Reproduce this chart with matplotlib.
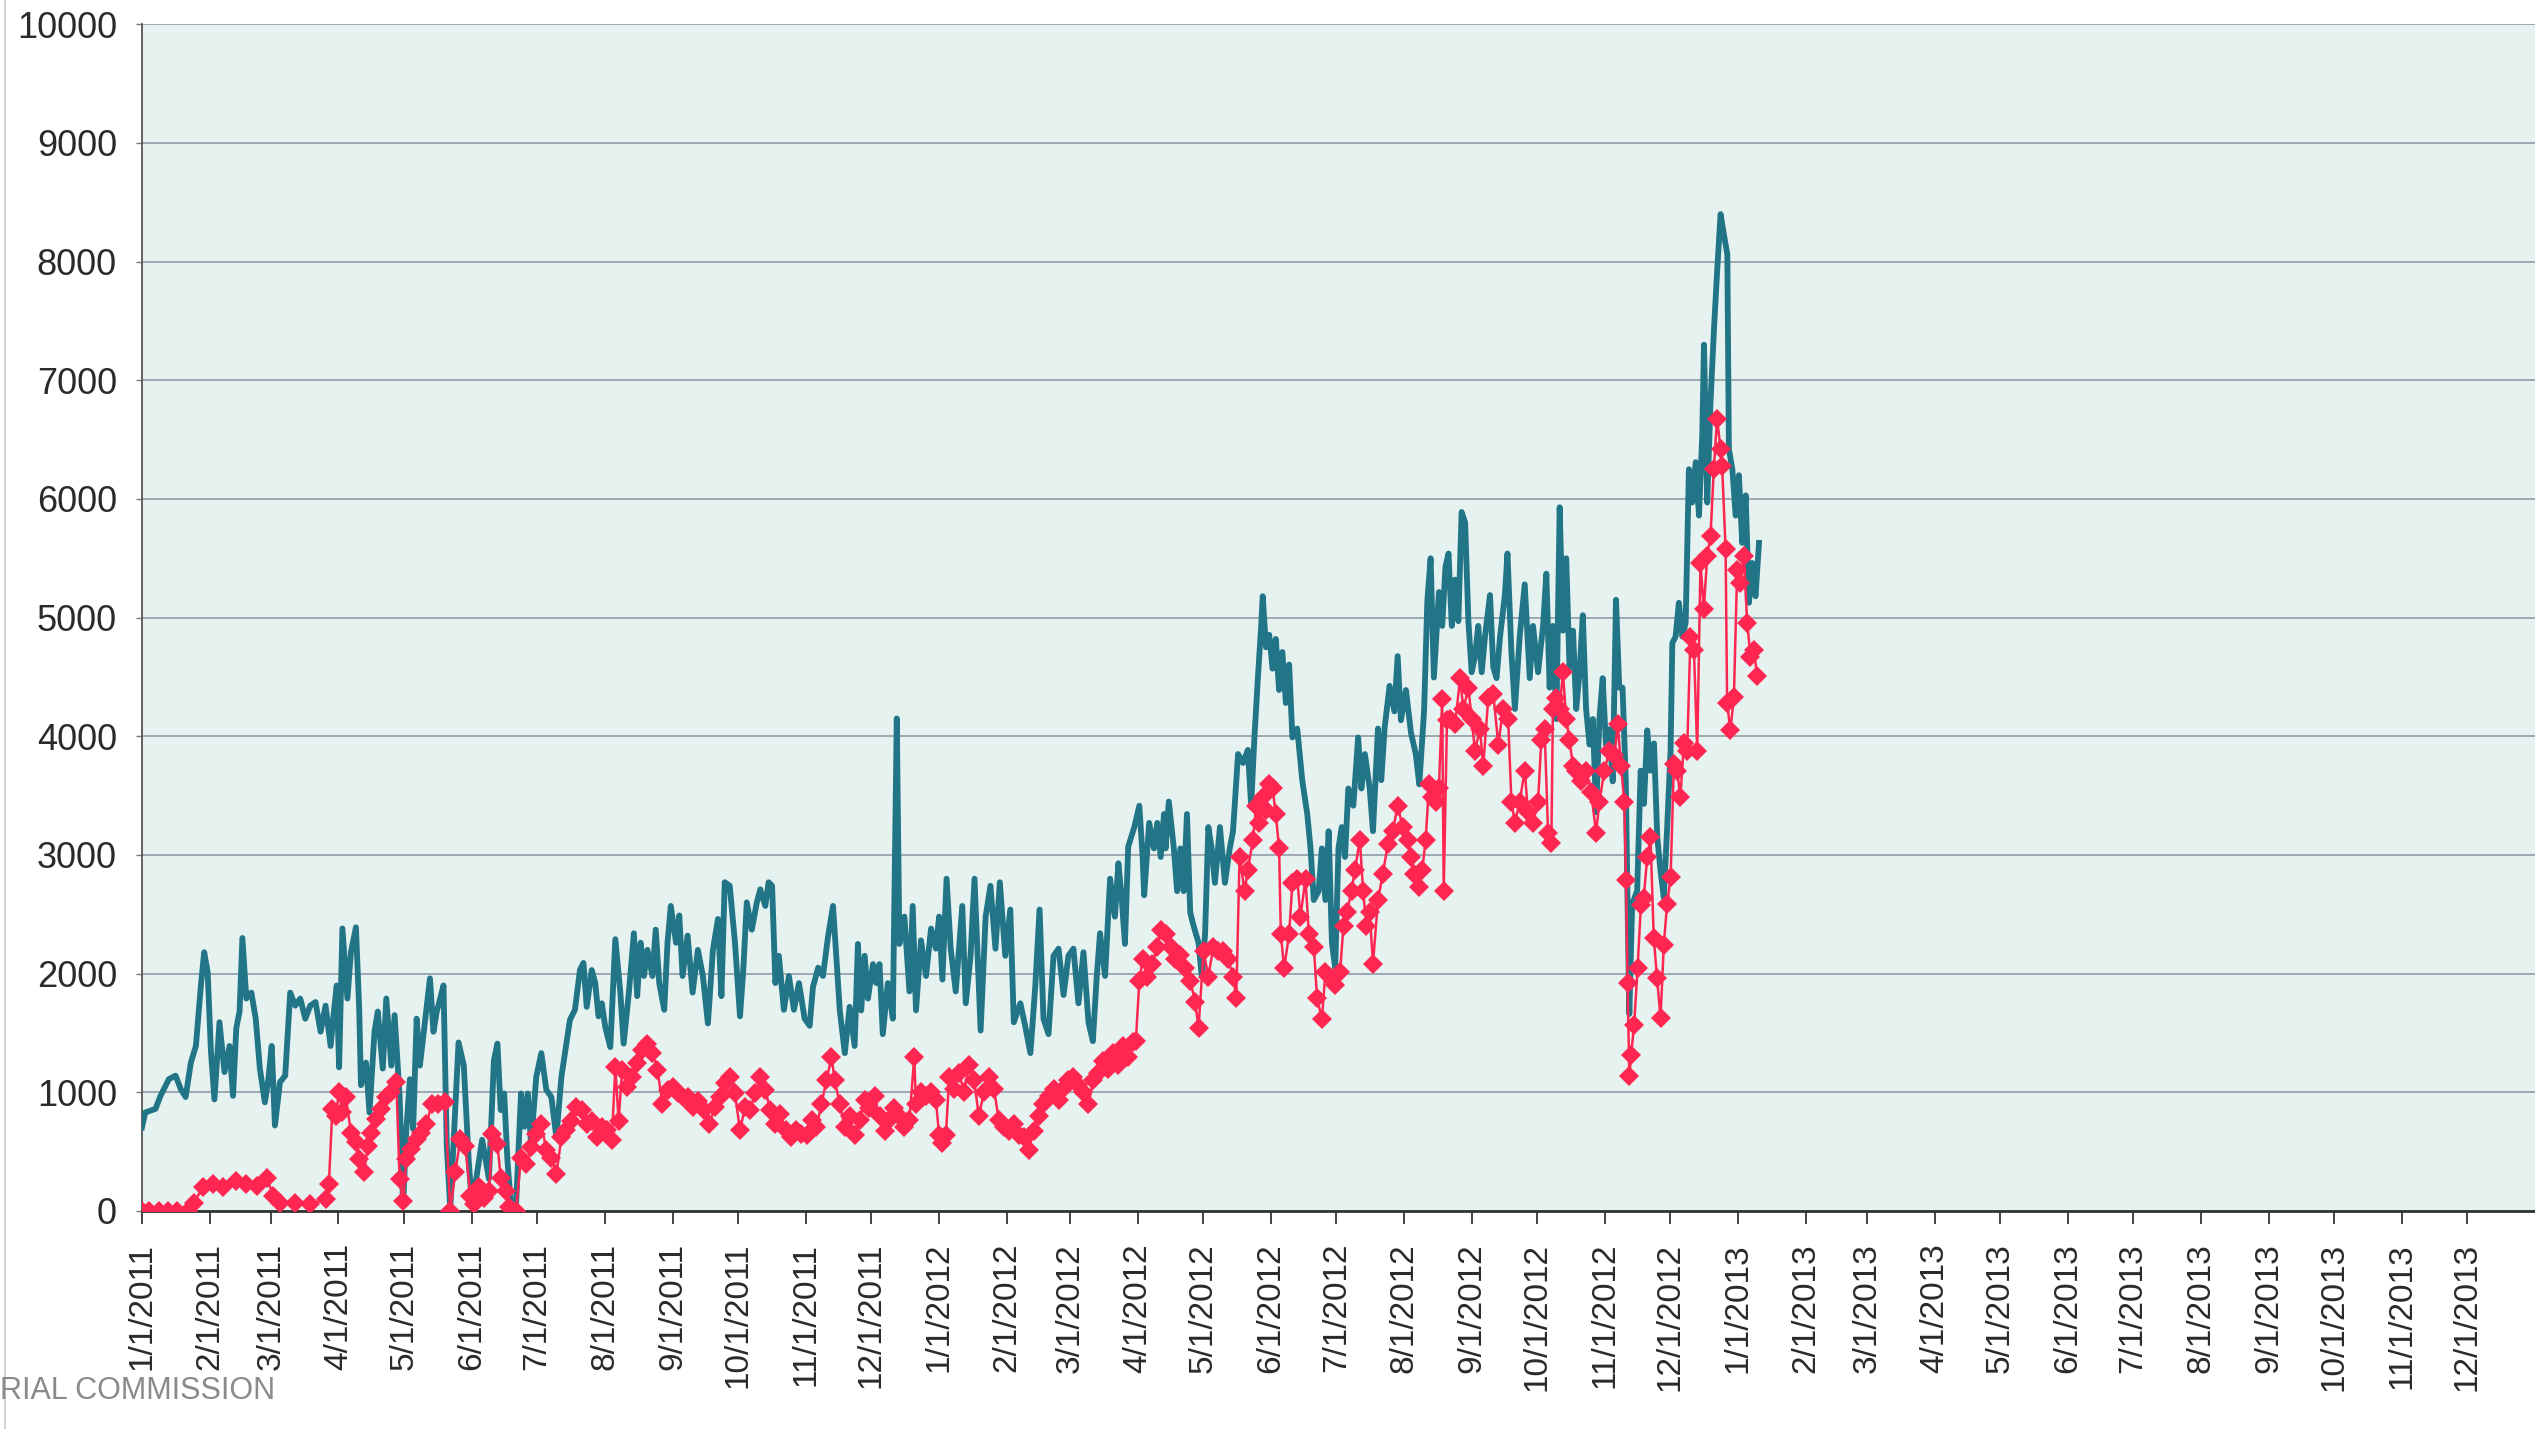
import pandas as pd
import numpy as np
import matplotlib
matplotlib.use('Agg')
import matplotlib.pyplot as plt

plt.rcParams['font.family'] = ['Liberation Sans', 'DejaVu Sans']

# %% Data: (days since 1/1/2011, value)
start = pd.Timestamp('2011-01-01')

teal_2011 = [
    (0, 704), (1.5, 830), (6.2, 860), (8.5, 970), (12.3, 1110), (15.4, 1140), (17.7, 1030), (20, 960),
    (22.4, 1250), (24.7, 1390), (27, 1900), (28.5, 2180), (30.1, 2010), (31.6, 1340), (33.2, 940),
    (35.5, 1590), (37.8, 1170), (40.1, 1390), (41.7, 970), (43.2, 1540), (44.7, 1680), (46, 2300),
    (47.8, 1790), (50.1, 1840), (52.1, 1620), (54, 1200), (56.3, 915), (57.9, 1110), (59.4, 1390),
    (60.9, 720), (63.2, 1085), (65.6, 1140), (67.9, 1840), (70.2, 1730), (72.5, 1790), (74.8, 1620),
    (77.1, 1730), (79.5, 1760), (81.8, 1510), (84.1, 1730), (86.4, 1390), (87.9, 1680), (89.2, 1900),
    (90.3, 1210), (91.8, 2380), (94.1, 1790), (95.7, 2180), (98, 2390), (99.5, 1700), (100.3, 1060),
    (102.6, 1250), (104.2, 830), (106.5, 1510), (108, 1680), (110.3, 1200), (111.9, 1790), (114.2, 1225),
    (115.7, 1650), (118, 970), (119.6, 40), (121.1, 690), (122.7, 1110), (124.2, 690), (125.8, 1620),
    (127.3, 1225), (129.6, 1590), (131.9, 1960), (133.5, 1510), (135, 1680), (136.6, 1790), (138.1, 1900),
    (139.6, 550), (141.2, 15), (145, 1420), (147.4, 1225), (149.7, 410), (151.2, 40), (155.8, 600),
    (158.9, 270), (161.2, 1270), (162.8, 1410), (164.3, 850), (165.9, 990), (167.4, 420), (169, 55),
    (171.3, 30), (173.6, 990), (175.2, 710), (176.7, 990), (178.2, 565), (180.6, 1130), (182.9, 1330),
    (185.2, 1020), (187.5, 960), (189.8, 620), (192.1, 1130), (194.4, 1410), (196, 1610), (198.3, 1695),
    (200.6, 2030), (202.2, 2090), (203.7, 1720), (206, 2030), (207.6, 1920), (209.1, 1640), (210.6, 1750),
    (212.2, 1550), (214.5, 1380), (216.8, 2290), (219.1, 1840), (220.6, 1410), (223, 1840), (225.3, 2340),
    (226.8, 1810), (228.4, 2260), (229.9, 1980), (231.5, 2200), (233.8, 1980), (235.3, 2370), (236.9, 1920),
    (239.2, 1695), (240.7, 2260), (242.2, 2570), (244.6, 2260), (246.1, 2490), (247.6, 1980), (249.9, 2320),
    (252.2, 1840), (254.6, 2200), (256.9, 1980), (259.2, 1580), (261.5, 2200), (263.8, 2460), (265.4, 1810),
    (266.9, 2770), (269.2, 2740), (271.6, 2260), (273.9, 1640), (275.4, 2030), (277, 2600), (279.3, 2370),
    (281.6, 2600), (283.2, 2710), (285.5, 2570), (287, 2770), (288.6, 2740), (290.1, 1920), (291.7, 2150),
    (294, 1695), (296.3, 1980), (298.6, 1695), (300.9, 1920), (303.5, 1620), (305.8, 1560), (307.3, 1885),
    (309.7, 2050), (311.9, 1980), (314.2, 2310), (316.5, 2570), (318.1, 2110), (319.6, 1690), (321.9, 1330),
    (324.1, 1720), (326.4, 1390), (327.9, 2250), (329.4, 1690), (331, 2150), (332.5, 1790), (334.8, 2080),
    (336.3, 1920), (337.8, 2080), (339.3, 1490), (341.6, 1920), (343.9, 1620), (345.7, 4150), (346.9, 2250),
    (349.2, 2480), (351.5, 1850), (353, 2570), (354.5, 1690), (356.8, 2280), (359.1, 1980), (361.4, 2380),
    (363.6, 2210),
]

teal_2012 = [
    (365.1, 2480), (366.6, 1950), (368.5, 2800), (370.4, 2210), (372.7, 1850), (375.7, 2570), (377.3, 1750),
    (379.5, 2150), (381.3, 2800), (384.1, 1520), (386.4, 2480), (388.6, 2740), (390.9, 2210), (392.9, 2770),
    (395.4, 2150), (397.7, 2540), (399.3, 1590), (402.3, 1750), (404.5, 1560), (406.9, 1330), (409.1, 1885),
    (411.1, 2540), (412.9, 1620), (415.2, 1490), (417.5, 2150), (419.8, 2210), (422.1, 1820), (424.3, 2150),
    (426.6, 2210), (428.9, 1750), (431.2, 2180), (433.5, 1590), (435.5, 1430), (437.3, 1980), (438.8, 2340),
    (441.1, 1980), (443.4, 2800), (445.6, 2480), (447.2, 2930), (448.7, 2640), (450.2, 2250), (451.7, 3070),
    (454.5, 3235), (456.8, 3415), (458.3, 2983), (459, 2660), (461.3, 3270), (463.5, 3055), (465, 3270),
    (466.6, 2983), (468.1, 3345), (468.8, 3055), (470.3, 3450), (472.6, 3055), (474.1, 2695), (475.6, 3055),
    (477.1, 2695), (478.6, 3345), (480.1, 2515), (481.6, 2405), (483.9, 2260), (485.4, 1975), (486.9, 2335),
    (488.4, 3235), (489.9, 3055), (491.4, 2765), (493.7, 3235), (496, 2765), (498.2, 3055), (499.7, 3200),
    (502, 3850), (504.3, 3775), (506.5, 3885), (508, 3415), (509.5, 3990), (511.1, 4495), (512.6, 4930),
    (513.3, 5180), (514.8, 4750), (516.3, 4855), (517.8, 4570), (519.3, 4820), (520.8, 4390), (522.3, 4710),
    (523.9, 4280), (525.4, 4605), (526.9, 3990), (529.1, 4065), (531.4, 3630), (533.7, 3345), (535.2, 3055),
    (536.7, 2620), (538.9, 2695), (540.4, 3055), (542, 2620), (543.5, 3200), (545, 2260), (546.5, 2045),
    (548, 3055), (549.5, 3235), (551, 2983), (552.5, 3560), (554.8, 3415), (557, 3990), (558.5, 3560),
    (560.1, 3850), (562.3, 3560), (563.8, 3200), (566.1, 4065), (567.6, 3630), (569.1, 4065), (571.4, 4425),
    (573.6, 4210), (575.1, 4675), (576.6, 4135), (578.9, 4390), (581.2, 4030), (583.4, 3850), (585, 3595),
    (587.2, 4210), (588.7, 5145), (590.2, 5500), (591.7, 4495), (594, 5215), (595.5, 4930), (597, 5430),
    (598.4, 5540), (599.9, 4930), (601.4, 5320), (602.9, 4970), (604.4, 5890), (606, 5800), (607.5, 4970),
    (609, 4540), (610.5, 4670), (612, 4930), (613.6, 4540), (615.1, 4840), (617.4, 5190), (618.9, 4580),
    (620.4, 4490), (622, 4840), (624.2, 5190), (625.4, 5540), (627.2, 4710), (628.8, 4230), (631, 4840),
    (633.3, 5280), (635.6, 4490), (637.1, 4930), (639.4, 4540), (641.7, 4930), (643.2, 5370), (644.7, 4410),
    (646.2, 4930), (647.8, 4145), (649.3, 5930), (650.8, 4890), (652.3, 5500), (653.8, 4580), (655.4, 4890),
    (656.9, 4230), (658.4, 4540), (659.9, 5020), (661.4, 4230), (663, 3930), (664.5, 4145), (666, 3360),
    (667.5, 4145), (669, 4490), (670.5, 3930), (672, 4060), (673.6, 3620), (675.1, 5150), (676.6, 4410),
    (678.1, 4410), (679.6, 3620), (680.4, 2575), (681.2, 1660), (682.5, 2585), (684.8, 2700), (686.4, 3710),
    (687.9, 3430), (689.4, 4050), (690.9, 3710), (692.5, 3940), (694, 3150), (695.5, 2865), (697, 2640),
    (698.6, 3260), (700.1, 3880), (700.9, 4785), (702.4, 4840), (703.9, 5125), (705.5, 4840), (707, 4955),
    (708.5, 6250), (710, 5970), (711.6, 6310), (713.1, 5860), (714.6, 6535), (715.4, 7300), (716.9, 5970),
    (718.4, 6820), (720, 7440), (721.5, 7945), (723, 8400), (724.5, 8230), (726.1, 8060), (726.8, 6420),
    (728.4, 6250), (729.9, 5860), (731.4, 6200), (732.9, 5630), (734.5, 6030), (736, 5125), (737.5, 5460),
    (739, 5180), (740.6, 5630),
]

red_2011 = [
    (0, 0), (3, 0), (8, 0), (12, 0), (16, 0), (21, 0), (23.9, 70), (27.8, 200), (32.4, 225), (37, 200),
    (43.2, 250), (47.8, 225), (52.5, 210), (57.1, 280), (60.2, 125), (63.2, 70), (70, 70), (77, 55),
    (84.1, 100), (85.6, 225), (87.2, 860), (88.7, 800), (90.3, 1000), (91.8, 830), (93.4, 960), (95.7, 660),
    (98, 580), (99.5, 440), (101.8, 325), (103.4, 550), (104.9, 660), (107.2, 775), (109.5, 860),
    (111.9, 960), (114.2, 1000), (116.5, 1085), (118, 270), (119.6, 85), (121.1, 440), (123.4, 520),
    (125.8, 605), (128, 660), (130.3, 730), (132.7, 900), (135.8, 900), (138.8, 915), (141.2, 0),
    (143.5, 325), (145.8, 605), (148.1, 550), (150.4, 125), (152, 55), (154.3, 200), (156.6, 110),
    (159, 170), (160.5, 650), (162.8, 565), (164.3, 280), (166.6, 170), (168.2, 30), (171.3, 0),
    (173.6, 450), (175.9, 395), (178.2, 535), (180.6, 650), (182.9, 735), (185.2, 510), (187.5, 450),
    (189.8, 310), (192.1, 620), (194.4, 680), (196.7, 760), (199, 875), (201.4, 850), (203.7, 735),
    (206, 760), (208.3, 620), (210.6, 705), (212.9, 680), (215.2, 595), (216.8, 1215), (218.3, 760),
    (219.9, 1185), (222.2, 1045), (224.5, 1130), (226.8, 1245), (229.1, 1355), (231.5, 1410), (233.8, 1330),
    (236.1, 1185), (238.4, 905), (240.7, 1015), (243, 1045), (245.3, 990), (247.6, 960), (249.9, 960),
    (252.2, 875), (254.6, 930), (257.6, 850), (259.9, 735), (262.3, 875), (264.6, 960), (266.9, 1075),
    (269.2, 1130), (271.6, 990), (273.9, 680), (276.2, 875), (278.5, 850), (280.8, 990), (283.2, 1130),
    (285.5, 1015), (287.8, 850), (290.1, 735), (292.4, 820), (294.8, 680), (297.1, 620), (299.4, 680),
    (301.7, 650), (304.4, 640), (306.7, 770), (308.9, 705), (311.2, 900), (313.5, 1100), (315.8, 1295),
    (317.3, 1100), (319.6, 900), (321.9, 705), (324.1, 800), (326.4, 640), (328.7, 770), (331, 935),
    (333.2, 870), (335.5, 965), (337.8, 800), (340.1, 670), (342.3, 770), (344.6, 870), (346.9, 800),
    (349.2, 705), (351.5, 770), (353.7, 1295), (354.5, 900), (356.8, 1000), (359.1, 965), (361.3, 1000),
    (363.6, 935),
]

red_2012 = [
    (365.1, 640), (366.6, 575), (368.2, 640), (369.7, 1130), (372, 1030), (374.2, 1165), (376.5, 1000),
    (378.8, 1230), (381.1, 1100), (383.3, 800), (385.6, 1000), (387.9, 1130), (390.2, 1030), (392.4, 770),
    (394.7, 705), (397, 670), (399.3, 735), (401.6, 640), (403.8, 620), (406.1, 510), (408.4, 670),
    (410.7, 800), (412.9, 900), (415.2, 965), (417.5, 1030), (419.8, 935), (422, 1030), (424.3, 1100),
    (426.6, 1130), (428.9, 1065), (431.2, 1000), (433.5, 900), (435.7, 1100), (438, 1165), (440.3, 1260),
    (442.5, 1200), (444.8, 1330), (447.1, 1230), (449.4, 1390), (451.6, 1295), (453.9, 1425), (455.2, 1435),
    (456.8, 1940), (458.3, 2120), (460.5, 1975), (462.8, 2085), (465, 2225), (466.6, 2370), (468.8, 2335),
    (471.1, 2225), (473.3, 2120), (475.6, 2155), (477.9, 2045), (480.1, 1940), (482.4, 1760), (483.9, 1540),
    (486.2, 2190), (488.4, 1975), (490.7, 2225), (493, 2190), (495.2, 2190), (497.5, 2120), (499.7, 1975),
    (501.2, 1795), (502.7, 2985), (505, 2695), (506.5, 2875), (508.8, 3125), (510.3, 3415), (511.8, 3270),
    (513.3, 3485), (514.8, 3375), (516.3, 3595), (517.8, 3560), (519.3, 3345), (520.8, 3055), (521.6, 2335),
    (523.1, 2045), (525.4, 2335), (526.9, 2765), (529.1, 2800), (530.6, 2480), (532.9, 2800), (534.4, 2335),
    (536.7, 2225), (538.2, 1795), (540.4, 1615), (542, 2010), (544.2, 1975), (546.5, 1900), (548.7, 2010),
    (550.3, 2405), (551.8, 2515), (554, 2695), (555.5, 2875), (557.8, 3125), (559.3, 2695), (560.8, 2405),
    (562.3, 2515), (563.8, 2085), (566.1, 2620), (568.3, 2840), (570.6, 3090), (572.9, 3200), (575.1, 3415),
    (577.4, 3235), (579.7, 3125), (581.2, 2985), (582.7, 2840), (584.9, 2730), (586.4, 2875), (587.9, 3125),
    (589.5, 3595), (591, 3485), (592.5, 3450), (594, 3560), (595.5, 4315), (596.2, 2695), (597.7, 4135),
    (599.1, 4145), (601.4, 4100), (603.7, 4490), (605.2, 4230), (607.5, 4410), (609, 4145), (610.5, 3880),
    (612.8, 4060), (614.3, 3750), (616.6, 4320), (618.9, 4360), (621.2, 3930), (623.4, 4230), (625.7, 4145),
    (627.2, 3450), (628.8, 3270), (631, 3450), (633.3, 3710), (634.8, 3360), (637.1, 3270), (639.4, 3450),
    (640.9, 3970), (642.4, 4060), (644, 3185), (645.5, 3100), (646.2, 4230), (647.8, 4320), (649.3, 4230),
    (650.8, 4540), (652.3, 4145), (653.8, 3970), (655.4, 3750), (656.9, 3710), (659.2, 3620), (661.4, 3710),
    (663.7, 3530), (666, 3185), (667.5, 3450), (669.8, 3710), (672.1, 3880), (674.4, 3840), (675.9, 4100),
    (677.4, 3750), (678.9, 3450), (679.7, 2790), (680.4, 1920), (681.2, 1135), (682, 1310), (683.4, 1570),
    (685, 2050), (686.5, 2575), (687.8, 2640), (689.4, 2980), (690.9, 3150), (692.4, 2300), (693.9, 1965),
    (695.5, 1625), (697, 2245), (698.5, 2585), (700.1, 2810), (701.6, 3770), (703.1, 3710), (704.6, 3490),
    (706.2, 3940), (707.7, 3880), (709.2, 4840), (710.8, 4730), (712.3, 3880), (713.8, 5460), (715.3, 5070),
    (716.9, 5520), (718.4, 5690), (719.9, 6250), (721.4, 6675), (723, 6420), (723.7, 6280), (725.3, 5575),
    (726, 4280), (727.5, 4050), (729.1, 4335), (730.6, 5405), (732.1, 5290), (733.6, 5520), (735.2, 4955),
    (736.7, 4670), (738.2, 4730), (739.8, 4505),
]

y_ticks = [0, 1000, 2000, 3000, 4000, 5000, 6000, 7000, 8000, 9000, 10000]
month_ticks = pd.date_range('2011-01-01', '2013-12-01', freq='MS')
month_labels = [f"{d.month}/{d.day}/{d.year}" for d in month_ticks]


def to_series(points):
    days, vals = zip(*points)
    return start + pd.to_timedelta(np.array(days), unit='D'), np.array(vals)


teal_x, teal_y = to_series(teal_2011 + teal_2012)
red_x, red_y = to_series(red_2011 + red_2012)

# %% Plot
fig = plt.figure(figsize=(25.35, 14.29), dpi=100)
ax = fig.add_axes([0.0560, 0.1526, 0.9440, 0.8304])
ax.set_facecolor('#e6f2f0')

ax.plot(teal_x, teal_y, color='#217587', lw=4.2, zorder=3)
ax.plot(red_x, red_y, color='#ff2752', lw=1.8, marker='D', markersize=10,
        markeredgewidth=0, zorder=4)

ax.set_ylim(0, 10000)
ax.set_xlim(pd.Timestamp('2011-01-01'), pd.Timestamp('2014-01-01'))
ax.set_yticks(y_ticks)
ax.set_yticklabels([str(v) for v in y_ticks], fontsize=26, color='#2a2a2a')
ax.set_xticks(month_ticks)
ax.set_xticklabels(month_labels, rotation=90, fontsize=24, color='#2a2a2a', va='top', ha='center')
ax.grid(axis='y', color='#8a93a3', lw=1.1)
ax.set_axisbelow(True)

for s in ['top', 'right']:
    ax.spines[s].set_visible(False)
ax.spines['left'].set_color('#555555')
ax.spines['left'].set_linewidth(1.3)
ax.spines['bottom'].set_color('#333333')
ax.spines['bottom'].set_linewidth(2)
ax.tick_params(axis='y', length=4, width=1, color='#777777', pad=14)
ax.tick_params(axis='x', length=9, width=1.4, color='#444444', pad=14)

# scanner stamp in the corner
fig.text(0.0, 0.016, 'RIAL COMMISSION', fontsize=22, color='#8a8a8a', ha='left', va='bottom')
fig.add_artist(plt.Line2D([0.002, 0.002], [0, 1], color='#c8c8c8', lw=1.2))

plt.savefig('out.png', dpi=100)
